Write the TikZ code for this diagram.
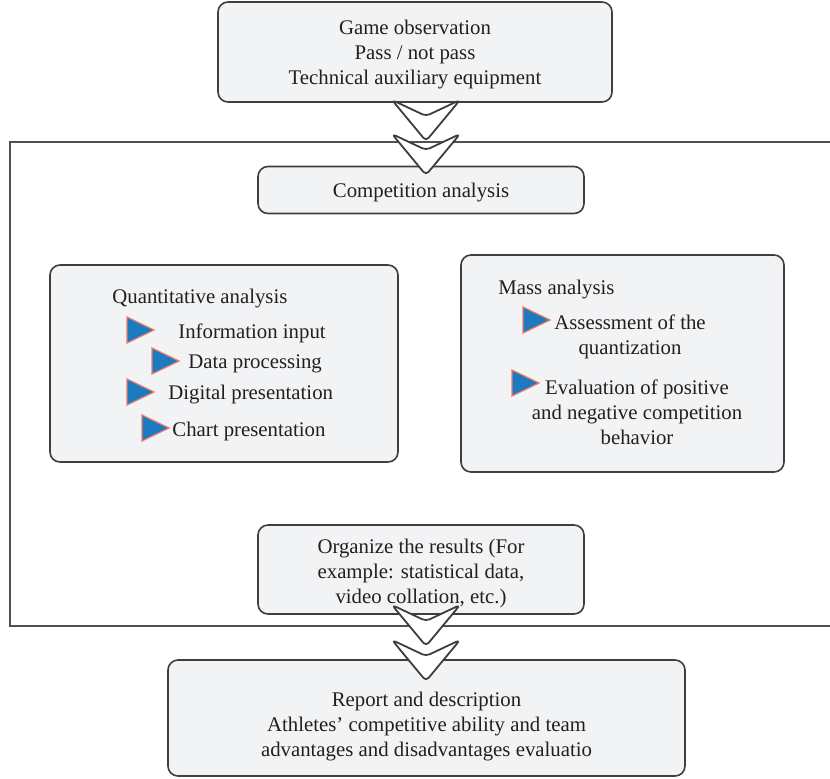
\documentclass[tikz,border=0pt]{standalone}
\usepackage{fontspec}
\setmainfont{Liberation Serif}
\usetikzlibrary{shapes.geometric}

\definecolor{boxfill}{RGB}{242,243,245}
\definecolor{boxline}{RGB}{62,62,62}
\definecolor{frameline}{RGB}{80,80,80}
\definecolor{textgray}{RGB}{35,31,32}
\definecolor{bulletblue}{RGB}{28,122,192}
\definecolor{bulletline}{RGB}{238,122,104}

\begin{document}
\begin{tikzpicture}[
    x=0.5pt, y=-0.5pt,
    box/.style={rectangle, draw=boxline, fill=boxfill, line width=0.8pt, rounded corners=5pt, inner sep=0pt},
    txt/.style={inner sep=0pt, align=center, text=textgray, font=\fontsize{10.4}{12.5}\selectfont},
    item/.style={txt, anchor=west},
    bullet/.style={draw=bulletline, fill=bulletblue, line width=0.6pt},
    chevron/.style={draw=boxline, fill=white, line width=0.9pt, rounded corners=2pt, line join=round},
    frame/.style={draw=frameline, line width=0.8pt}
]
\useasboundingbox (0,0) rectangle (830,778);

% Outer frame (open on the right)

\draw[frame] (830,142) -| (10,626) -- (830,626);

% Boxes

\node[box, minimum width=197pt, minimum height=50pt] (observe) at (415,52) {};
\node[txt] (observetext) at ([yshift=-1.5pt]observe.center) {Game observation\\Pass / not pass\\Technical auxiliary equipment};

\node[box, minimum width=163pt, minimum height=23.5pt] (compete) at (421,190) {};
\node[txt] (competetext) at ([yshift=-1.5pt]compete.center) {Competition analysis};

\node[box, minimum width=174pt, minimum height=98.5pt] (quant) at (224,363.5) {};

\node[box, minimum width=161.5pt, minimum height=108.5pt] (mass) at (622.5,363.5) {};

\node[box, minimum width=163pt, minimum height=44.5pt] (organize) at (421,569.5) {};
\node[txt] (organizetext) at ([yshift=-2pt]organize.center) {Organize the results (For\\example: statistical data,\\video collation, etc.)};

\node[box, minimum width=258.5pt, minimum height=58pt] (report) at (426.5,718) {};
\node[txt] (reporttext) at ([yshift=-4.5pt]report.center) {Report and description\\Athletes' competitive ability and team\\advantages and disadvantages evaluatio};

% Quantitative analysis

\node[item] (quanttitle) at (112,299) {Quantitative analysis};
\node[item] (info) at (178,333) {Information input};
\node[item] (dataproc) at (188,364) {Data processing};
\node[item] (digital) at (168,395) {Digital presentation};
\node[item] (chart) at (172,431) {Chart presentation};

% Mass analysis

\node[item] (masstitle) at (498,290) {Mass analysis};
\node[txt] (assess) at (630,337) {Assessment of the\\quantization};
\node[txt] (evaluate) at (637,412) {Evaluation of positive\\and negative competition\\behavior};

% Bullets

\foreach \bx/\by in {127/317, 152/348, 127/379, 142/415, 523/307, 512/370}
    \draw[bullet] (\bx,\by) -- ++(27,13) -- ++(-27,13) -- cycle;

% Chevrons

\foreach \cy in {100,134,605,640}
    \draw[chevron] (392,\cy) -- ++(34,41) -- ++(34,-41) -- ++(-34,16) -- cycle;

\end{tikzpicture}
\end{document}
